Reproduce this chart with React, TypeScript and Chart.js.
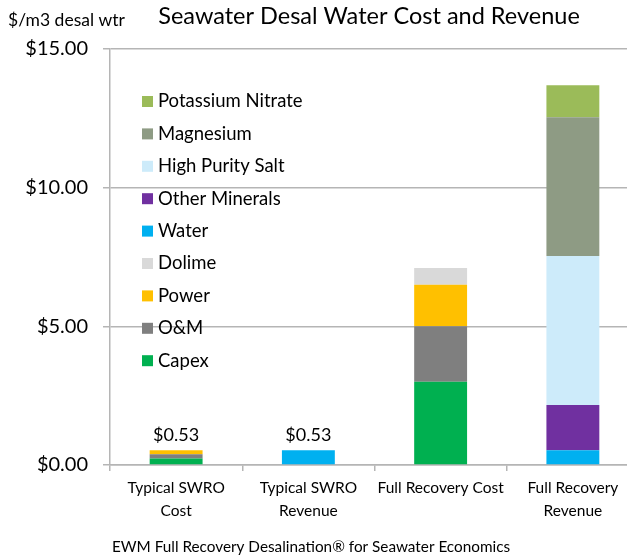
import React, { useEffect, useRef } from 'react';
import { Chart, registerables } from 'chart.js';

Chart.register(...registerables);

const categories: (string | string[])[] = [
  ['Typical SWRO', 'Cost'],
  ['Typical SWRO', 'Revenue'],
  'Full Recovery Cost',
  ['Full Recovery', 'Revenue'],
];
const capex = [0.23, 0, 3.0, 0];
const oAndM = [0.16, 0, 2.0, 0];
const power = [0.14, 0, 1.5, 0];
const dolime = [0, 0, 0.6, 0];
const water = [0, 0.53, 0, 0.53];
const otherMinerals = [0, 0, 0, 1.63];
const highPuritySalt = [0, 0, 0, 5.38];
const magnesium = [0, 0, 0, 5.0];
const potassiumNitrate = [0, 0, 0, 1.15];
const totalLabels = ['$0.53', '$0.53', '', ''];
const yMin = 0;
const yMax = 15;
const yStep = 5;

const titleText = 'Seawater Desal Water Cost and Revenue';
const unitText = '$/m3 desal wtr';
const footerText = 'EWM Full Recovery Desalination\u00AE for Seawater Economics';

const FONT = 'Lato, "Open Sans", sans-serif';
const GRID = '#b5b5b5';

const textPlugin = {
  id: 'textPlugin',
  afterDraw(chart: any) {
    const ctx = chart.ctx as CanvasRenderingContext2D;
    ctx.save();
    ctx.fillStyle = '#000';
    ctx.textBaseline = 'middle';
    // title
    ctx.font = `23.5px ${FONT}`;
    ctx.textAlign = 'center';
    ctx.fillText(titleText, 369, 16);
    // unit
    ctx.font = `17.5px ${FONT}`;
    ctx.textAlign = 'left';
    ctx.fillText(unitText, 8, 20);
    // footer
    ctx.font = `15.3px ${FONT}`;
    ctx.textAlign = 'center';
    ctx.fillText(footerText, 311, 547);
    // legend
    ctx.font = `18.5px ${FONT}`;
    ctx.textAlign = 'left';
    const ds = chart.data.datasets.slice().reverse();
    ds.forEach((d: any, i: number) => {
      const y = 101.5 + i * 32.4;
      ctx.fillStyle = d.backgroundColor;
      ctx.fillRect(142, y - 5.5, 11, 11);
      ctx.fillStyle = '#000';
      ctx.fillText(d.label, 158, y);
    });
    // totals
    ctx.font = `18px ${FONT}`;
    ctx.textAlign = 'center';
    ctx.textBaseline = 'bottom';
    const xs = chart.scales.x;
    const ys = chart.scales.y;
    totalLabels.forEach((lab, i) => {
      if (!lab) return;
      let total = 0;
      chart.data.datasets.forEach((d: any) => (total += d.data[i] || 0));
      ctx.fillText(lab, xs.getPixelForValue(i), ys.getPixelForValue(total) - 6);
    });
    ctx.restore();
  },
};

export default function App() {
  const ref = useRef<HTMLCanvasElement>(null);
  useEffect(() => {
    if (!ref.current) return;
    const mk = (label: string, data: number[], color: string) => ({
      label,
      data,
      backgroundColor: color,
      borderWidth: 0,
      categoryPercentage: 1,
      barPercentage: 0.4,
    });
    const chart = new Chart(ref.current, {
      type: 'bar',
      data: {
        labels: categories,
        datasets: [
          mk('Capex', capex, '#00B050'),
          mk('O&M', oAndM, '#7F7F7F'),
          mk('Power', power, '#FFC000'),
          mk('Dolime', dolime, '#D9D9D9'),
          mk('Water', water, '#00B0F0'),
          mk('Other Minerals', otherMinerals, '#7030A0'),
          mk('High Purity Salt', highPuritySalt, '#CDEBFA'),
          mk('Magnesium', magnesium, '#8E9B84'),
          mk('Potassium Nitrate', potassiumNitrate, '#9BBB59'),
        ],
      },
      options: {
        responsive: false,
        animation: false,
        layout: { padding: { top: 49, right: 11, left: 0, bottom: 0 } },
        plugins: {
          legend: { display: false },
          tooltip: { enabled: false },
          title: { display: false },
        },
        scales: {
          x: {
            stacked: true,
            afterFit: (s: any) => { s.height = 92; },
            grid: { drawOnChartArea: false, drawTicks: true, tickLength: 6, offset: true, color: GRID, lineWidth: 1.5 },
            border: { display: true, color: GRID, width: 1.5 },
            ticks: {
              autoSkip: false,
              maxRotation: 0,
              color: '#000',
              padding: 5,
              font: { family: FONT, size: 15.5, lineHeight: 1.5 },
            },
          },
          y: {
            stacked: true,
            min: yMin,
            max: yMax,
            afterFit: (s: any) => { s.width = 110; },
            grid: { color: GRID, lineWidth: 1.5, tickLength: 7, tickColor: GRID },
            border: { display: true, color: GRID, width: 1.5 },
            ticks: {
              stepSize: yStep,
              color: '#000',
              padding: 15,
              font: { family: FONT, size: 20 },
              callback: (v: any) => '$' + Number(v).toFixed(2),
            },
          },
        },
      },
      plugins: [textPlugin],
    });
    return () => chart.destroy();
  }, []);
  return (
    <div style={{ position: 'absolute', left: 0, top: 0, width: 627, height: 557, overflow: 'hidden', background: '#fff' }}>
      <canvas ref={ref} width={650} height={557} style={{ width: 650, height: 557, display: 'block' }} />
    </div>
  );
}
